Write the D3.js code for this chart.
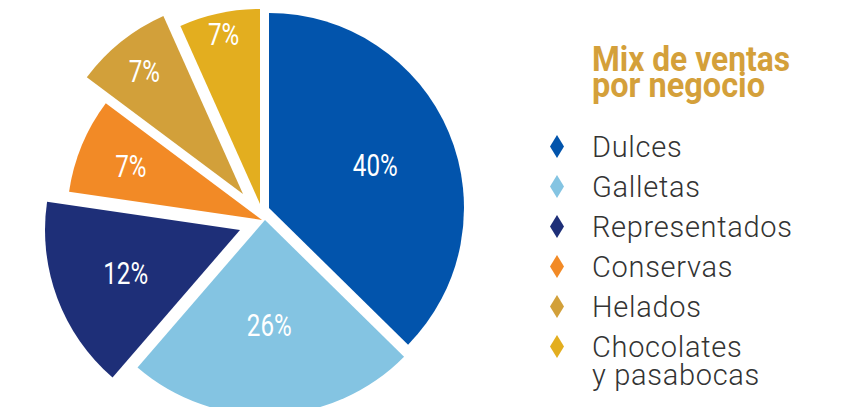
<!DOCTYPE html>
<html>
<head>
<meta charset="utf-8">
<script src="https://cdn.jsdelivr.net/npm/d3@7"></script>
<style>
  body { margin: 0; background: #fff; }
  svg { display: block; }
</style>
</head>
<body>
<svg id="chart" width="856" height="407"></svg>
<script>
// data
var categories = ["Dulces", "Galletas", "Representados", "Conservas", "Helados", "Chocolates\ny pasabocas"];
var shares = [37.4, 24.0, 16.0, 7.9, 8.1, 6.7];      // slice size as drawn
var labels = ["40%", "26%", "12%", "7%", "7%", "7%"];  // printed labels
var colors = ["#0254ac", "#84c4e2", "#1e2f78", "#f28a26", "#d2a03a", "#e3ae1f"];

// layout
var cx = 262, cy = 215, radius = 195;
// how far each wedge is pulled out from the centre
var explode = [[7, -7], [3, 5], [-22, 15], [0, 5], [-19, -21], [-2, -11]];
var labelR = [112, 105, 122, 142, 158, 174];

var svg = d3.select("#chart");

var pie = d3.pie().sort(null).value(function(d) { return d; });
var arcs = pie(shares);
var arc = d3.arc().innerRadius(0).outerRadius(radius);

var slice = svg.selectAll("g.slice")
    .data(arcs)
  .enter().append("g")
    .attr("class", "slice")
    .attr("transform", function(d, i) {
      return "translate(" + (cx + explode[i][0]) + "," + (cy + explode[i][1]) + ")";
    });

slice.append("path")
    .attr("d", arc)
    .attr("fill", function(d, i) { return colors[i]; });

slice.append("text")
    .attr("transform", function(d, i) {
      var c = d3.arc().innerRadius(labelR[i]).outerRadius(labelR[i]).centroid(d);
      return "translate(" + (c[0] + (i === 0 ? 3 : 0)) + "," + (c[1] + 11) + ") scale(0.78,1)";
    })
    .attr("text-anchor", "middle")
    .style("font-family", "Roboto, 'DejaVu Sans', sans-serif")
    .style("font-weight", 400)
    .style("font-size", "31px")
    .attr("fill", "#fff")
    .text(function(d, i) { return labels[i]; });

// legend title
var title = svg.append("g").attr("transform", "translate(592,0)");
title.append("text").attr("y", 71).attr("textLength", 198).attr("lengthAdjust", "spacingAndGlyphs")
    .text("Mix de ventas");
title.append("text").attr("y", 97).attr("textLength", 173).attr("lengthAdjust", "spacingAndGlyphs")
    .text("por negocio");
title.selectAll("text")
    .style("font-family", "Roboto, sans-serif")
    .style("font-weight", 700)
    .style("font-size", "35px")
    .attr("fill", "#d4a03a");

var legend = svg.selectAll("g.item")
    .data(categories)
  .enter().append("g")
    .attr("class", "item")
    .attr("transform", function(d, i) { return "translate(557," + (157 + i * 40) + ")"; });

legend.append("path")
    .attr("d", "M0,-22 L7,-10.5 L0,1 L-7,-10.5 Z")
    .attr("fill", function(d, i) { return colors[i]; });

legend.append("text")
    .attr("x", 35)
    .style("font-family", "Roboto, sans-serif")
    .style("font-weight", 300)
    .style("font-size", "29px")
    .style("letter-spacing", "0.7px")
    .attr("fill", "#333")
    .selectAll("tspan")
    .data(function(d) { return d.split("\n"); })
  .enter().append("tspan")
    .attr("x", 35)
    .attr("dy", function(d, i) { return i ? 28 : 0; })
    .text(function(d) { return d; });
</script>
</body>
</html>
